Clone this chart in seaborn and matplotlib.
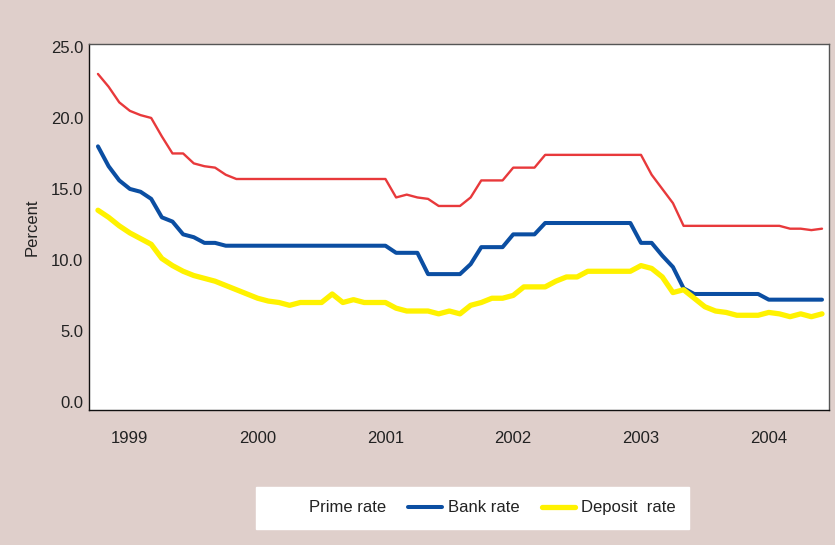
import pandas as pd
import numpy as np
import matplotlib
matplotlib.use("Agg")
import matplotlib.pyplot as plt
import seaborn as sns
from matplotlib.lines import Line2D

# monthly observations, Apr 1999 - Dec 2004
dates = pd.date_range("1999-04-01", periods=69, freq="MS")

prime_rate = [23.1, 22.2, 21.1, 20.5, 20.2, 20.0, 18.7, 17.5, 17.5, 16.8, 16.6, 16.5, 16.0,
              15.7, 15.7, 15.7, 15.7, 15.7, 15.7, 15.7, 15.7, 15.7, 15.7, 15.7, 15.7, 15.7, 15.7, 15.7,
              14.4, 14.6, 14.4, 14.3, 13.8, 13.8, 13.8,
              14.4, 15.6, 15.6, 15.6, 16.5, 16.5, 16.5,
              17.4, 17.4, 17.4, 17.4, 17.4, 17.4, 17.4, 17.4, 17.4, 17.4,
              16.0, 15.0, 14.0, 12.4,
              12.4, 12.4, 12.4, 12.4, 12.4, 12.4, 12.4, 12.4, 12.4,
              12.2, 12.2, 12.1, 12.2]

bank_rate = [18.0, 16.6, 15.6, 15.0, 14.8, 14.3, 13.0, 12.7, 11.8, 11.6, 11.2, 11.2, 11.0,
             11.0, 11.0, 11.0, 11.0, 11.0, 11.0, 11.0, 11.0, 11.0, 11.0, 11.0, 11.0, 11.0, 11.0, 11.0,
             10.5, 10.5, 10.5, 9.0, 9.0, 9.0, 9.0, 9.7,
             10.9, 10.9, 10.9, 11.8, 11.8, 11.8,
             12.6, 12.6, 12.6, 12.6, 12.6, 12.6, 12.6, 12.6, 12.6,
             11.2, 11.2, 10.3, 9.5, 8.0,
             7.6, 7.6, 7.6, 7.6, 7.6, 7.6, 7.6,
             7.2, 7.2, 7.2, 7.2, 7.2, 7.2]

deposit_rate = [13.5, 13.0, 12.4, 11.9, 11.5, 11.1, 10.1, 9.6, 9.2, 8.9, 8.7, 8.5, 8.2,
                7.9, 7.6, 7.3, 7.1, 7.0, 6.8, 7.0, 7.0, 7.0, 7.6, 7.0, 7.2, 7.0, 7.0, 7.0,
                6.6, 6.4, 6.4, 6.4, 6.2, 6.4, 6.2, 6.8, 7.0, 7.3, 7.3, 7.5, 8.1, 8.1,
                8.1, 8.5, 8.8, 8.8, 9.2, 9.2, 9.2, 9.2, 9.2,
                9.6, 9.4, 8.8, 7.7, 7.9, 7.3, 6.7, 6.4, 6.3,
                6.1, 6.1, 6.1, 6.3, 6.2, 6.0, 6.2, 6.0, 6.2]

year_labels = ["1999", "2000", "2001", "2002", "2003", "2004"]

df = pd.DataFrame({"date": dates, "Prime rate": prime_rate,
                   "Bank rate": bank_rate, "Deposit  rate": deposit_rate})
df["t"] = df["date"].dt.year + (df["date"].dt.month - 1) / 12

sns.set_style("white")
plt.rcParams["font.family"] = ["Liberation Sans", "DejaVu Sans"]

bg = "#dfcfcb"
fig = plt.figure(figsize=(8.35, 5.45), dpi=100, facecolor=bg)
ax = fig.add_axes([0.1066, 0.247, 0.886, 0.672])
ax.set_facecolor("white")

sns.lineplot(data=df, x="t", y="Prime rate", ax=ax, color="#e8393b", lw=1.7)
sns.lineplot(data=df, x="t", y="Bank rate", ax=ax, color="#0b4ea2", lw=2.9)
sns.lineplot(data=df, x="t", y="Deposit  rate", ax=ax, color="#fff200", lw=3.8)

ax.set_xlim(1999.18, 2004.97)
ax.set_ylim(-0.6, 25.2)
ax.set_yticks(np.arange(0, 26, 5))
ax.set_yticklabels([f"{v:.1f}" for v in np.arange(0, 26, 5)])
ax.set_xticks([int(y) + 0.5 for y in year_labels])
ax.set_xticklabels(year_labels)
ax.tick_params(axis="both", length=0, labelsize=12, colors="#222222")
ax.tick_params(axis="x", pad=15)
ax.tick_params(axis="y", pad=4)
ax.set_xlabel("")
ax.set_ylabel("Percent", fontsize=12, color="#222222", labelpad=8)

for side in ["top", "right"]:
    ax.spines[side].set_color("#555555")
    ax.spines[side].set_linewidth(1.0)
for side in ["left", "bottom"]:
    ax.spines[side].set_color("#111111")
    ax.spines[side].set_linewidth(1.0)

handles = [Line2D([], [], color="white", lw=2.9),
           Line2D([], [], color="#0b4ea2", lw=2.9),
           Line2D([], [], color="#fff200", lw=3.8)]
leg = fig.legend(handles, ["Prime rate", "Bank rate", "Deposit  rate"],
                 loc="center", bbox_to_anchor=(0.566, 0.068), ncol=3,
                 fontsize=12, frameon=True, fancybox=False, framealpha=1,
                 handlelength=2.0, handletextpad=0.35, columnspacing=1.35,
                 borderpad=0.8, borderaxespad=0)
leg.get_frame().set_facecolor("white")
leg.get_frame().set_edgecolor("white")
for txt in leg.get_texts():
    txt.set_color("#222222")

fig.savefig("out.png", dpi=100, facecolor=bg)
